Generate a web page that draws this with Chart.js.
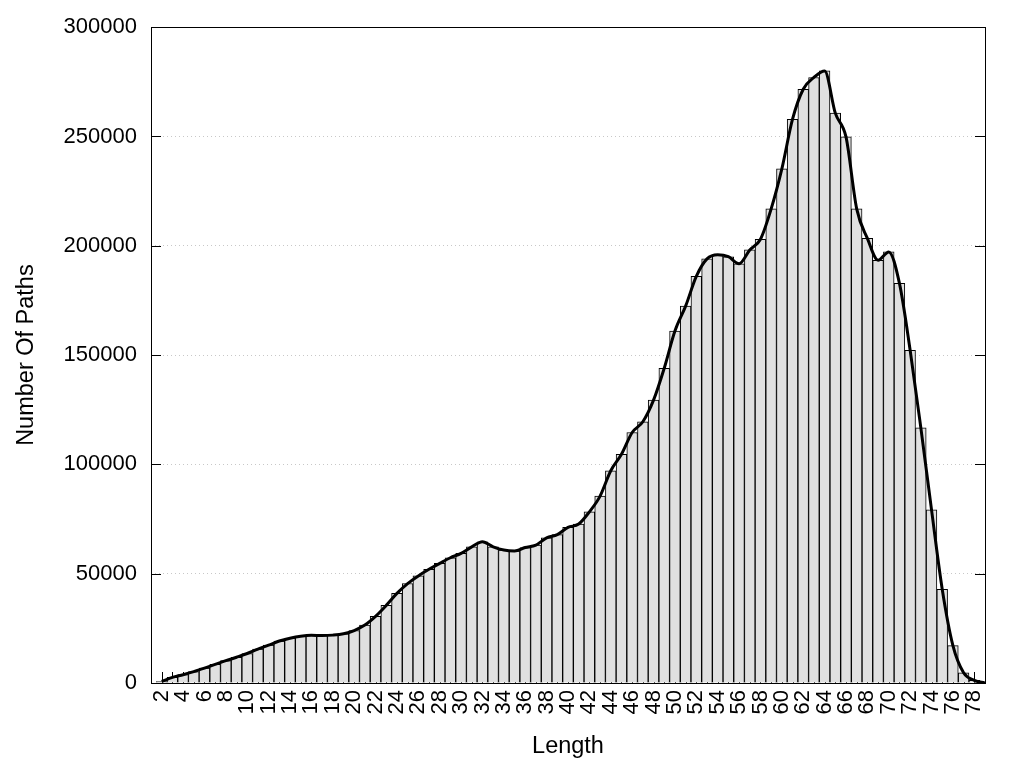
<!DOCTYPE html>
<html>
<head>
<meta charset="utf-8">
<script src="https://cdn.jsdelivr.net/npm/chart.js@4.4.0/dist/chart.umd.min.js"></script>
<style>
  body { margin: 0; background: #fff; }
</style>
</head>
<body>
<canvas id="pathChart" width="1024" height="768"></canvas>
<script>
// path lengths (bins) and counts
var lengths = [2, 3, 4, 5, 6, 7, 8, 9, 10, 11, 12, 13, 14, 15, 16, 17, 18, 19, 20,
    21, 22, 23, 24, 25, 26, 27, 28, 29, 30, 31, 32, 33, 34, 35, 36, 37, 38, 39, 40,
    41, 42, 43, 44, 45, 46, 47, 48, 49, 50, 51, 52, 53, 54, 55, 56, 57, 58, 59, 60,
    61, 62, 63, 64, 65, 66, 67, 68, 69, 70, 71, 72, 73, 74, 75, 76, 77, 78];
var pathCounts = [700, 2600, 3800, 5200, 6800, 8500, 10200, 11800, 13500,
    15500, 17300, 19200, 20500, 21400, 21800, 21700, 21900, 22500, 24000,
    26500, 30500, 35500, 41000, 45500, 49000, 52000, 54700, 57300, 59300,
    62300, 64600, 62300, 60800, 60400, 62000, 63100, 66400, 67900, 71200,
    72700, 78300, 85500, 97100, 104600, 114600, 119500, 129400, 144000, 161000,
    172400, 186000, 194000, 195900, 195000, 191800, 198100, 203000, 216900, 235200,
    257900, 271600, 277000, 280000, 260700, 249800, 216900, 203400, 193400, 197200,
    182800, 152200, 116700, 79200, 42900, 17100, 4700, 1200];

// smooth curve: same points, ending on the axis at the right border
var curveEndX = 79;
var curveEndY = 0;

// x labels shown every 2
var xTickLabels = [];
for (var i = 2; i <= 78; i += 2) xTickLabels.push(i);
var yTicks = [0, 50000, 100000, 150000, 200000, 250000, 300000];

var barData = lengths.map(function (l, k) { return { x: l, y: pathCounts[k] }; });
var curveData = barData.slice();
curveData.push({ x: curveEndX, y: curveEndY });

var tickFont = { family: 'Liberation Sans, Arial, sans-serif', size: 22 };
var titleFont = { family: 'Liberation Sans, Arial, sans-serif', size: 23.5 };

// inward tics (hidden behind the bars) and the frame round the plot
var frame = {
    id: 'frame',
    beforeDatasetsDraw: function (c) {
        var ctx = c.ctx, a = c.chartArea, xs = c.scales.x, ys = c.scales.y;
        ctx.save();
        ctx.strokeStyle = '#000';
        ctx.lineWidth = 1;
        ctx.beginPath();
        for (var v = 2; v <= 78; v++) {
            var px = Math.round(xs.getPixelForValue(v)) + 0.5;
            ctx.moveTo(px, a.bottom);
            ctx.lineTo(px, a.bottom - 11);
        }
        yTicks.forEach(function (t) {
            var py = Math.round(ys.getPixelForValue(t)) + 0.5;
            ctx.moveTo(a.left, py);
            ctx.lineTo(a.left + 10, py);
            ctx.moveTo(a.right, py);
            ctx.lineTo(a.right - 10, py);
        });
        ctx.stroke();
        ctx.restore();
    },
    afterDatasetsDraw: function (c) {
        var ctx = c.ctx, a = c.chartArea;
        ctx.save();
        ctx.strokeStyle = '#000';
        ctx.lineWidth = 1;
        ctx.strokeRect(Math.round(a.left) + 0.5, Math.round(a.top) + 0.5,
            Math.round(a.right - a.left), Math.round(a.bottom - a.top));
        ctx.restore();
    }
};

var ctx = document.getElementById('pathChart').getContext('2d');
var chart = new Chart(ctx, {
    type: 'bar',
    data: {
        datasets: [
            {
                type: 'line',
                data: curveData,
                borderColor: '#000',
                borderWidth: 3,
                pointRadius: 0,
                cubicInterpolationMode: 'monotone',
                fill: false,
                order: 0
            },
            {
                type: 'bar',
                data: barData,
                backgroundColor: '#e0e0e0',
                borderColor: '#000',
                borderWidth: 1,
                barPercentage: 1,
                categoryPercentage: 1,
                order: 1
            }
        ]
    },
    options: {
        responsive: false,
        animation: false,
        layout: { padding: { top: 27, right: 39, left: 0, bottom: 0 } },
        plugins: { legend: { display: false }, tooltip: { enabled: false } },
        scales: {
            x: {
                type: 'linear',
                min: 1,
                max: 79,
                offset: false,
                afterFit: function (s) { s.height = 85; },
                afterBuildTicks: function (s) {
                    s.ticks = xTickLabels.map(function (v) { return { value: v }; });
                },
                grid: { display: false, drawTicks: false, offset: false },
                border: { display: false },
                ticks: {
                    autoSkip: false,
                    minRotation: 90,
                    maxRotation: 90,
                    padding: 7,
                    color: '#000',
                    font: tickFont
                },
                title: {
                    display: true,
                    text: 'Length',
                    color: '#000',
                    font: titleFont,
                    padding: { top: 0, bottom: 7 }
                }
            },
            y: {
                min: 0,
                max: 300000,
                afterFit: function (s) { s.width = 151; },
                afterBuildTicks: function (s) {
                    s.ticks = yTicks.map(function (v) { return { value: v }; });
                },
                grid: {
                    drawTicks: false,
                    color: function (g) {
                        return (g.tick && (g.tick.value === 0 || g.tick.value === 300000)) ? 'rgba(0,0,0,0)' : '#c8c8c8';
                    },
                    lineWidth: 1
                },
                border: { display: false, dash: [1, 3] },
                ticks: {
                    padding: 14,
                    color: '#000',
                    font: tickFont,
                    callback: function (v) { return String(v); }
                },
                title: {
                    display: true,
                    text: 'Number Of Paths',
                    color: '#000',
                    font: titleFont,
                    padding: { top: 12, bottom: 0 }
                }
            }
        }
    },
    plugins: [frame]
});
</script>
</body>
</html>
